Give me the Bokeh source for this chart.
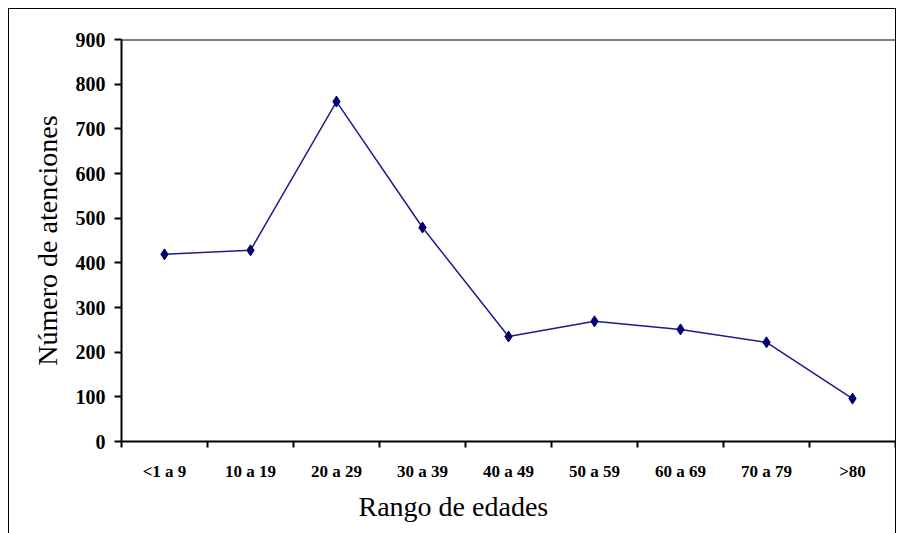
from bokeh.plotting import figure
from bokeh.models import Range1d, FixedTicker, Span, Title
from bokeh.embed import file_html
from bokeh.resources import INLINE

categories = ["<1 a 9", "10 a 19", "20 a 29", "30 a 39", "40 a 49",
              "50 a 59", "60 a 69", "70 a 79", ">80"]
atenciones = [419, 428, 761, 479, 235, 269, 251, 222, 96]
y_ticks = [0, 100, 200, 300, 400, 500, 600, 700, 800, 900]

xs = [i + 0.5 for i in range(len(categories))]

p = figure(width=888, height=527, output_backend="svg", toolbar_location=None,
           x_range=Range1d(0, len(categories)), y_range=Range1d(0, 900),
           min_border_left=112, min_border_top=30, min_border_right=2,
           min_border_bottom=95)
p.styles = {"border": "1.5px solid black", "box-sizing": "border-box",
            "margin-left": "8px", "margin-top": "8px"}
p.outline_line_color = None
p.xgrid.grid_line_color = None
p.ygrid.grid_line_color = None
p.background_fill_color = "white"
p.border_fill_color = "white"

p.add_layout(Span(location=900, dimension="width", line_color="black", line_width=2))

p.line(xs, atenciones, line_color="#1c1c8e", line_width=1.5)
p.scatter(xs, atenciones, marker="diamond", size=11, fill_color="#00006e",
          line_color="#00006e")

xa = p.xaxis[0]
xa.ticker = FixedTicker(ticks=xs, minor_ticks=list(range(len(categories) + 1)))
xa.major_label_overrides = {x: c for x, c in zip(xs, categories)}
xa.major_tick_out = 0
xa.major_tick_in = 0
xa.minor_tick_out = 6
xa.minor_tick_in = 0
xa.minor_tick_line_color = "black"
xa.minor_tick_line_width = 2
xa.axis_line_width = 2
xa.axis_line_color = "black"
xa.major_label_standoff = 14
xa.major_label_text_font = "Liberation Serif"
xa.major_label_text_font_style = "bold"
xa.major_label_text_font_size = "17px"
xa.major_label_text_color = "black"

ya = p.yaxis[0]
ya.ticker = FixedTicker(ticks=y_ticks)
ya.major_tick_out = 7
ya.major_tick_in = 0
ya.minor_tick_out = 0
ya.minor_tick_in = 0
ya.major_tick_line_width = 2
ya.major_tick_line_color = "black"
ya.axis_line_width = 2
ya.axis_line_color = "black"
ya.major_label_standoff = 9
ya.major_label_text_font = "Liberation Serif"
ya.major_label_text_font_style = "bold"
ya.major_label_text_font_size = "20px"
ya.major_label_text_color = "black"
ya.axis_label = "Número de atenciones"
ya.axis_label_text_font = "Liberation Serif"
ya.axis_label_text_font_style = "normal"
ya.axis_label_text_font_size = "28px"
ya.axis_label_text_color = "black"
ya.axis_label_standoff = 10

p.add_layout(Title(text="Rango de edades", align="left", offset=237,
                   text_font="Liberation Serif", text_font_style="normal",
                   text_font_size="28px", text_color="black", standoff=10),
             "below")

open("out.html", "w").write(file_html(p, INLINE))
